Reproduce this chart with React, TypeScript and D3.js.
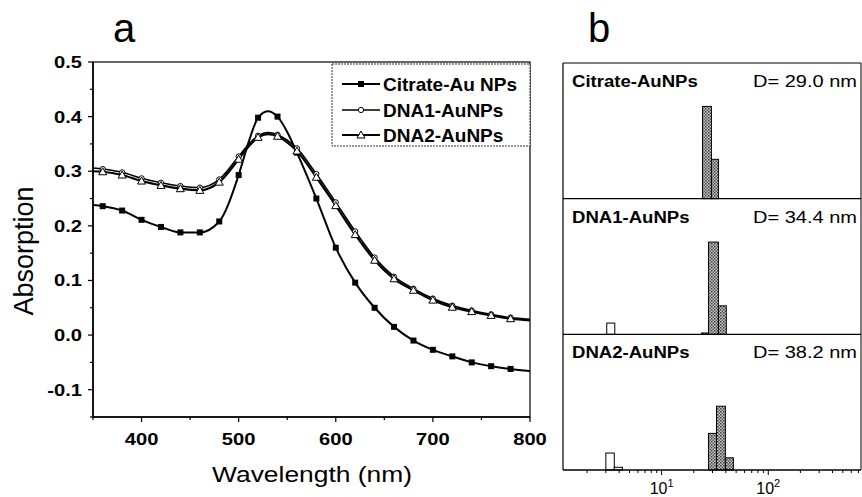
import React from "react";
import * as d3 from "d3";

// ---------- Panel a data ----------
const wavelengths = [350, 360, 380, 400, 420, 440, 460, 480, 500, 510, 520, 530, 540, 550, 560, 580, 600, 620, 640, 660, 680, 700, 720, 740, 760, 780, 800];
const citrateAbs = [0.238, 0.236, 0.228, 0.211, 0.198, 0.188, 0.188, 0.208, 0.293, 0.352, 0.398, 0.41, 0.4, 0.372, 0.334, 0.25, 0.16, 0.096, 0.05, 0.015, -0.01, -0.027, -0.039, -0.05, -0.057, -0.062, -0.066];
const dna1Abs = [0.306, 0.304, 0.298, 0.287, 0.279, 0.273, 0.27, 0.285, 0.327, 0.349, 0.365, 0.371, 0.367, 0.357, 0.342, 0.295, 0.243, 0.19, 0.142, 0.107, 0.085, 0.067, 0.054, 0.045, 0.038, 0.032, 0.029];
const dna2Abs = [0.3, 0.299, 0.293, 0.282, 0.274, 0.268, 0.265, 0.28, 0.322, 0.345, 0.362, 0.368, 0.364, 0.353, 0.337, 0.289, 0.237, 0.184, 0.137, 0.103, 0.082, 0.064, 0.051, 0.043, 0.036, 0.03, 0.027];
const seriesNames = ["Citrate-Au NPs", "DNA1-AuNPs", "DNA2-AuNPs"];
const xTicksA = [400, 500, 600, 700, 800];
const yTicksA = [-0.1, 0.0, 0.1, 0.2, 0.3, 0.4, 0.5];

// ---------- Panel b data (lower nm, upper nm, %) ----------
const panelNames = ["Citrate-AuNPs", "DNA1-AuNPs", "DNA2-AuNPs"];
const panelDiameters = ["D= 29.0 nm", "D= 34.4 nm", "D= 38.2 nm"];
const citrateBins: [number, number, number][] = [[24.2, 29.3, 68], [29.3, 34.1, 29]];
const dna1Bins: [number, number, number][] = [[3.06, 3.64, 8.3], [23.7, 27.5, 1], [27.5, 34.1, 68], [34.1, 40.4, 21]];
const dna2Bins: [number, number, number][] = [[3.0, 3.6, 12.5], [3.6, 4.3, 2], [27.5, 32.7, 27], [32.7, 39.6, 47], [39.6, 47.1, 9]];
const sizeTicks = [10, 100];

const FONT = "'Liberation Sans', Arial, sans-serif";

function StretchText({ x, y, sx, anchor, size, weight, children }: any) {
  return (
    <text
      transform={`translate(${x},${y}) scale(${sx},1)`}
      textAnchor={anchor}
      fontSize={size}
      fontWeight={weight}
      fontFamily={FONT}
      fill="#000"
    >
      {children}
    </text>
  );
}

function Marker({ kind, x, y }: { kind: number; x: number; y: number }) {
  if (kind === 0) return <rect x={x - 3} y={y - 3} width={6} height={6} fill="#000" />;
  if (kind === 1) return <circle cx={x} cy={y} r={2.6} fill="#fff" stroke="#000" strokeWidth={1} />;
  const s = 4;
  return (
    <path
      d={`M${x},${y - s} L${x + s},${y + s * 0.75} L${x - s},${y + s * 0.75} Z`}
      fill="#fff"
      stroke="#000"
      strokeWidth={1}
    />
  );
}

export default function App() {
  // ----- panel a scales -----
  const x = d3.scaleLinear().domain([350, 800]).range([93, 530]);
  const y = d3.scaleLinear().domain([-0.15, 0.5]).range([417, 62]);
  const series = [citrateAbs, dna1Abs, dna2Abs];
  const widths = [2, 1.6, 2.2];
  const line = d3
    .line<number>()
    .x((_, i) => x(wavelengths[i]))
    .y((d) => y(d))
    .curve(d3.curveMonotoneX);
  const markerIdx = wavelengths
    .map((w, i) => (w % 20 === 0 && w >= 360 && w <= 780 ? i : -1))
    .filter((i) => i >= 0);
  const xMinor = d3.range(350, 801, 50);
  const yMinor = d3.range(-0.15, 0.501, 0.05);

  // ----- panel b scales -----
  const bx = d3.scaleLog().domain([1.19, 740]).range([563, 861]);
  const panelPos = d3.scaleLinear().domain([0, 3]).range([63, 470]);
  const bins = [citrateBins, dna1Bins, dna2Bins];
  const logMinor: number[] = [];
  [1, 10, 100].forEach((dec) => {
    for (let k = 1; k <= 9; k++) {
      const v = dec * k;
      if (v >= 1.19 && v <= 740) logMinor.push(v);
    }
  });

  const legendX0 = 342;
  const legendX1 = 380;
  const legendRows = [84, 110, 135];

  return (
    <svg
      width={862}
      height={497}
      style={{ position: "absolute", left: 0, top: 0, background: "#fff" }}
    >
      <defs>
        <pattern id="dots" width={3} height={3} patternUnits="userSpaceOnUse">
          <rect width={3} height={3} fill="#c8c8c8" />
          <rect width={1.5} height={1.5} fill="#3a3a3a" />
          <rect x={1.5} y={1.5} width={1.5} height={1.5} fill="#5a5a5a" />
        </pattern>
        <clipPath id="clipA">
          <rect x={93} y={62} width={437} height={355} />
        </clipPath>
      </defs>
      <rect width={862} height={497} fill="#fff" />

      {/* ================= Panel a ================= */}
      <text x={124} y={42} fontSize={40} fontFamily={FONT} textAnchor="middle">a</text>

      {/* frame */}
      <rect x={93} y={62} width={437} height={355} fill="none" stroke="#000" strokeWidth={1.2} />
      <line x1={93} y1={62} x2={93} y2={417} stroke="#000" strokeWidth={1.6} />
      <line x1={93} y1={417} x2={530} y2={417} stroke="#000" strokeWidth={1.6} />

      {/* x ticks */}
      {xMinor.map((v) => (
        <line key={"xm" + v} x1={x(v)} x2={x(v)} y1={417} y2={417 + (v % 100 === 0 ? 5 : 3)} stroke="#000" strokeWidth={1.2} />
      ))}
      {xTicksA.map((v) => (
        <StretchText key={"xl" + v} x={x(v)} y={445} sx={1.26} anchor="middle" size={16} weight="bold">
          {v}
        </StretchText>
      ))}
      {/* y ticks */}
      {yMinor.map((v, i) => (
        <line key={"ym" + i} x1={93} x2={93 - (i % 2 === 1 ? 5 : 3)} y1={y(v)} y2={y(v)} stroke="#000" strokeWidth={1.2} />
      ))}
      {yTicksA.map((v) => (
        <StretchText key={"yl" + v} x={82} y={y(v) + 6} sx={1.26} anchor="end" size={16} weight="bold">
          {v.toFixed(1)}
        </StretchText>
      ))}

      {/* axis titles */}
      <StretchText x={312} y={482} sx={1.2} anchor="middle" size={22} weight="normal">
        Wavelength (nm)
      </StretchText>
      <text
        transform="translate(33,251) rotate(-90)"
        textAnchor="middle"
        fontSize={27}
        fontFamily={FONT}
      >
        Absorption
      </text>

      {/* curves */}
      <g clipPath="url(#clipA)">
        {series.map((s, k) => (
          <path key={"c" + k} d={line(s) || ""} fill="none" stroke="#000" strokeWidth={widths[k]} />
        ))}
        {series.map((s, k) =>
          markerIdx.map((i) => <Marker key={`m${k}-${i}`} kind={k} x={x(wavelengths[i])} y={y(s[i])} />)
        )}
      </g>

      {/* legend */}
      <rect x={332} y={64} width={198} height={82} fill="#fff" stroke="#333" strokeWidth={1} strokeDasharray="2,1" />
      {seriesNames.map((n, k) => (
        <g key={"lg" + k}>
          <line x1={legendX0} x2={legendX1} y1={legendRows[k]} y2={legendRows[k]} stroke="#000" strokeWidth={widths[k]} />
          <Marker kind={k} x={(legendX0 + legendX1) / 2} y={legendRows[k]} />
          <text x={383} y={legendRows[k] + 7} fontSize={19} fontWeight="bold" fontFamily={FONT}>
            {n}
          </text>
        </g>
      ))}

      {/* ================= Panel b ================= */}
      <text x={588} y={42} fontSize={40} fontFamily={FONT}>b</text>

      {bins.map((bs, p) => {
        const top = panelPos(p);
        const bottom = panelPos(p + 1);
        const by = d3.scaleLinear().domain([0, 100]).range([bottom, top]);
        return (
          <g key={"p" + p}>
            {bs.map(([lo, hi, pct], j) => (
              <rect
                key={"b" + j}
                x={bx(lo)}
                y={by(pct)}
                width={bx(hi) - bx(lo)}
                height={by(0) - by(pct)}
                fill={hi < 10 ? "#fff" : "url(#dots)"}
                stroke="#000"
                strokeWidth={1}
              />
            ))}
            <StretchText x={572} y={top + 24} sx={1.16} anchor="start" size={16} weight="bold">
              {panelNames[p]}
            </StretchText>
            <StretchText x={857} y={top + 24} sx={1.25} anchor="end" size={16} weight="normal">
              {panelDiameters[p]}
            </StretchText>
            <line x1={563} x2={861} y1={bottom} y2={bottom} stroke="#000" strokeWidth={1.4} />
          </g>
        );
      })}
      {/* panel b frame */}
      <line x1={563} x2={861} y1={63} y2={63} stroke="#000" strokeWidth={1} />
      <line x1={563} x2={563} y1={63} y2={470} stroke="#000" strokeWidth={1.2} />
      <line x1={861} x2={861} y1={63} y2={470} stroke="#000" strokeWidth={1} />

      {/* log ticks */}
      {logMinor.map((v, i) => (
        <line
          key={"lt" + i}
          x1={bx(v)}
          x2={bx(v)}
          y1={470}
          y2={470 + (sizeTicks.includes(v) ? 5 : 3)}
          stroke="#000"
          strokeWidth={1}
        />
      ))}
      {sizeTicks.map((v) => (
        <text key={"st" + v} x={bx(v)} y={494} textAnchor="middle" fontSize={16} fontFamily={FONT}>
          10
          <tspan fontSize={11} dy={-7}>
            {Math.round(Math.log10(v))}
          </tspan>
        </text>
      ))}
    </svg>
  );
}
